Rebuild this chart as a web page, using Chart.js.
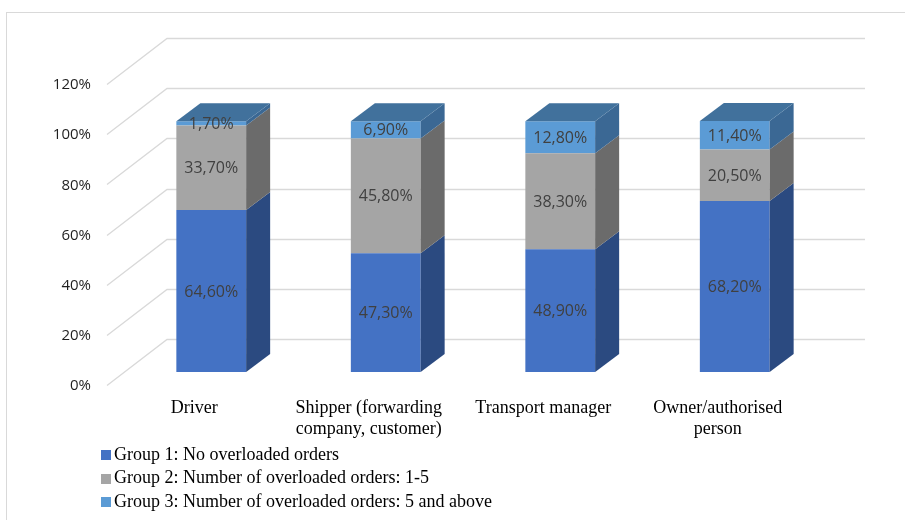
<!DOCTYPE html>
<html>
<head>
<meta charset="utf-8">
<script src="https://cdn.jsdelivr.net/npm/chart.js@4.4.1/dist/chart.umd.min.js"></script>
<style>
  html, body { margin: 0; padding: 0; background: #fff; }
  #wrap { width: 905px; height: 520px; position: relative; }
</style>
</head>
<body>
<div id="wrap"><canvas id="overloadChart"></canvas></div>
<script>
// ===============================
// Data
// ===============================
const CATEGORIES = [
  "Driver",
  ["Shipper (forwarding", "company, customer)"],
  "Transport manager",
  ["Owner/authorised", "person"]
];
const SERIES_NAMES = [
  "Group 1: No overloaded orders",
  "Group 2: Number of overloaded orders: 1-5",
  "Group 3: Number of overloaded orders: 5 and above"
];
const GROUP1 = [64.6, 47.3, 48.9, 68.2];
const GROUP2 = [33.7, 45.8, 38.3, 20.5];
const GROUP3 = [1.7, 6.9, 12.8, 11.4];
const Y_TICKS = [0, 20, 40, 60, 80, 100, 120];

// ===============================
// Colours (front / side / top)
// ===============================
const FRONT = ["#4472c4", "#a5a5a5", "#5b9bd5"];
const SIDE = ["#2b4a80", "#6b6b6b", "#3b6894"];
const TOP = ["#2f5597", "#7f7f7f", "#41719c"];

// 3D geometry: wall depth, bar position inside depth, bar depth
const WALL_DX = 60, WALL_DY = -46;
const BAR_DX = 17, BAR_DY = -13;
const DEPTH_DX = 24, DEPTH_DY = -18;

const fmt = (v) => v.toFixed(2).replace(".", ",") + "%";

/* -----------------------------------------------------
   outer frame + walls / gridlines
----------------------------------------------------- */
const framePlugin = {
  id: "frame",
  beforeDraw(chart) {
    const ctx = chart.ctx;
    ctx.save();
    ctx.strokeStyle = "#d9d9d9";
    ctx.lineWidth = 1;
    ctx.strokeRect(6.5, 12.5, 1000, 1000);
    ctx.restore();
  },
  beforeDatasetsDraw(chart) {
    const { ctx, chartArea, scales } = chart;
    ctx.save();
    ctx.strokeStyle = "#d9d9d9";
    ctx.lineWidth = 1.3;
    Y_TICKS.forEach((v) => {
      const y = Math.round(scales.y.getPixelForValue(v)) + 0.5;
      ctx.beginPath();
      ctx.moveTo(chartArea.left, y);
      ctx.lineTo(chartArea.left + WALL_DX, y + WALL_DY);
      ctx.lineTo(chartArea.right + WALL_DX, y + WALL_DY);
      ctx.stroke();
    });
    ctx.restore();
    // bars are drawn shifted into the depth of the plot
    ctx.save();
    ctx.translate(BAR_DX, BAR_DY);
  },
  afterDatasetsDraw(chart) {
    const ctx = chart.ctx;
    const n = chart.data.datasets.length;
    chart.data.datasets.forEach((ds, di) => {
      chart.getDatasetMeta(di).data.forEach((bar) => {
        const p = bar.getProps(["x", "y", "base", "width"], true);
        const x1 = p.x - p.width / 2, x2 = p.x + p.width / 2;
        const yTop = Math.min(p.y, p.base), yBot = Math.max(p.y, p.base);
        // side face
        ctx.fillStyle = SIDE[di];
        ctx.beginPath();
        ctx.moveTo(x2, yTop);
        ctx.lineTo(x2 + DEPTH_DX, yTop + DEPTH_DY);
        ctx.lineTo(x2 + DEPTH_DX, yBot + DEPTH_DY);
        ctx.lineTo(x2, yBot);
        ctx.closePath();
        ctx.fill();
        // top face on the last segment
        if (di === n - 1) {
          ctx.fillStyle = TOP[di];
          ctx.beginPath();
          ctx.moveTo(x1, yTop);
          ctx.lineTo(x1 + DEPTH_DX, yTop + DEPTH_DY);
          ctx.lineTo(x2 + DEPTH_DX, yTop + DEPTH_DY);
          ctx.lineTo(x2, yTop);
          ctx.closePath();
          ctx.fill();
        }
      });
    });
    // value labels
    ctx.fillStyle = "#404040";
    ctx.font = "16px 'Open Sans'";
    ctx.textAlign = "center";
    ctx.textBaseline = "middle";
    chart.data.datasets.forEach((ds, di) => {
      chart.getDatasetMeta(di).data.forEach((bar, i) => {
        const p = bar.getProps(["x", "y", "base"], true);
        ctx.fillText(fmt(ds.data[i]), p.x, (p.y + p.base) / 2 + 1);
      });
    });
    ctx.restore();
  },
  afterDraw(chart) {
    // legend, one entry per line
    const ctx = chart.ctx;
    ctx.save();
    ctx.font = "18px 'Liberation Serif'";
    ctx.textBaseline = "middle";
    ctx.textAlign = "left";
    chart.data.datasets.forEach((ds, di) => {
      const y = 455 + di * 23.5;
      ctx.fillStyle = ds.backgroundColor;
      ctx.fillRect(101, Math.round(y - 5), 10, 10);
      ctx.fillStyle = "#000";
      ctx.fillText(ds.label, 114, y);
    });
    ctx.restore();
  }
};

/* -----------------------------------------------------
   chart
----------------------------------------------------- */
new Chart(document.getElementById("overloadChart"), {
  type: "bar",
  data: {
    labels: CATEGORIES,
    datasets: [
      { label: SERIES_NAMES[0], data: GROUP1, backgroundColor: FRONT[0] },
      { label: SERIES_NAMES[1], data: GROUP2, backgroundColor: FRONT[1] },
      { label: SERIES_NAMES[2], data: GROUP3, backgroundColor: FRONT[2] }
    ]
  },
  options: {
    responsive: true,
    maintainAspectRatio: false,
    animation: false,
    layout: { padding: { left: 0, right: 100, top: 84, bottom: 0 } },
    datasets: {
      bar: { categoryPercentage: 1, barPercentage: 0.4, borderWidth: 0 }
    },
    plugins: {
      legend: { display: false },
      tooltip: { enabled: false }
    },
    scales: {
      x: {
        stacked: true,
        grid: { display: false, drawTicks: false },
        border: { display: false },
        ticks: {
          padding: 12,
          color: "#000",
          font: { family: "'Liberation Serif'", size: 18 },
          maxRotation: 0,
          autoSkip: false
        },
        afterFit(scale) { scale.height = 135; }
      },
      y: {
        stacked: true,
        min: 0,
        max: 120,
        grid: { display: false, drawTicks: false },
        border: { display: false },
        afterBuildTicks(scale) {
          scale.ticks = Y_TICKS.map((v) => ({ value: v }));
        },
        ticks: {
          padding: 16,
          labelOffset: 1,
          color: "#1f1f1f",
          font: { family: "'Open Sans'", size: 15 },
          callback: (v) => v + "%"
        },
        afterFit(scale) { scale.width = 107; }
      }
    }
  },
  plugins: [framePlugin]
});
</script>
</body>
</html>
